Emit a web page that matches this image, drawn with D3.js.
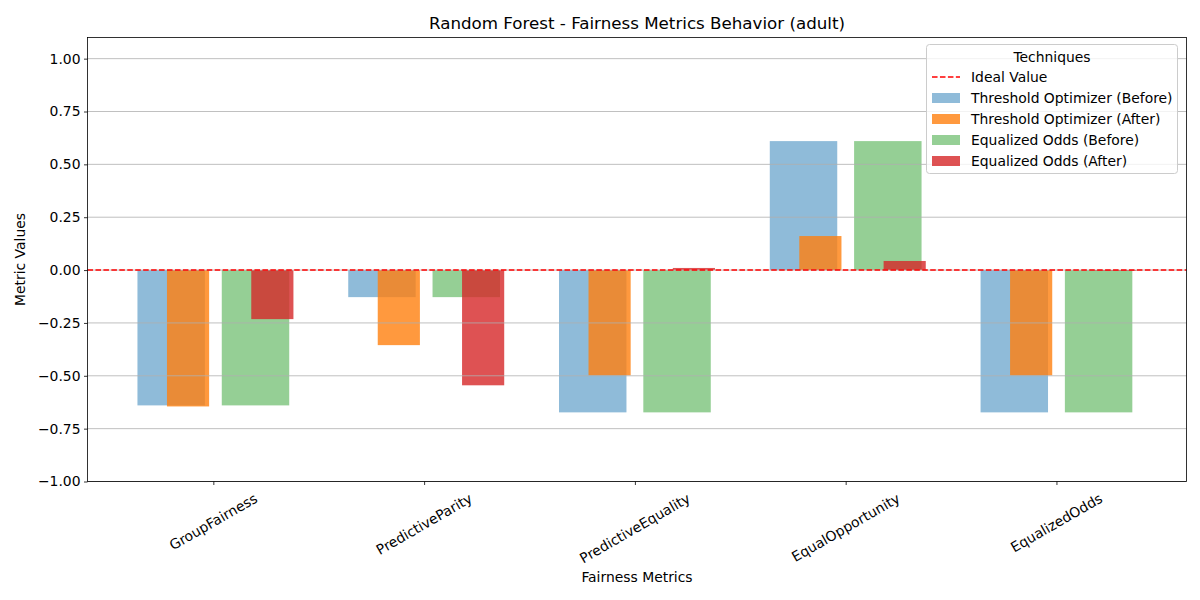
<!DOCTYPE html>
<html><head><meta charset="utf-8">
<script src="https://cdn.jsdelivr.net/npm/d3@7/dist/d3.min.js"></script>
<style>body{margin:0;background:#fff}svg{font-family:"DejaVu Sans",sans-serif}</style>
</head><body><svg id="c" width="1200" height="600"></svg>
<script>
const categories = ["GroupFairness","PredictiveParity","PredictiveEquality","EqualOpportunity","EqualizedOdds"];
const toBefore = [-0.640, -0.128, -0.673, 0.610, -0.673];
const toAfter  = [-0.645, -0.355, -0.498, 0.161, -0.498];
const eoBefore = [-0.640, -0.128, -0.673, 0.610, -0.673];
const eoAfter  = [-0.232, -0.545, 0.010, 0.043, -0.004];
const yTicks = [-1.00,-0.75,-0.50,-0.25,0.00,0.25,0.50,0.75,1.00];
const seriesNames = ["Threshold Optimizer (Before)","Threshold Optimizer (After)","Equalized Odds (Before)","Equalized Odds (After)"];

const svg = d3.select("#c");
const L=87.5, R=1186.5, T=37.5, B=481.5;
const x = d3.scaleLinear().domain([-0.597,4.617]).range([L,R]);
const y = d3.scaleLinear().domain([-1,1.1]).range([B,T]);

const series = [
  {name:seriesNames[0], vals:toBefore, off:-0.2, w:0.32, color:"#1f77b4", op:0.5},
  {name:seriesNames[1], vals:toAfter,  off:-0.12, w:0.2, color:"#ff7f0e", op:0.8},
  {name:seriesNames[2], vals:eoBefore, off:0.2, w:0.32, color:"#2ca02c", op:0.5},
  {name:seriesNames[3], vals:eoAfter,  off:0.28, w:0.2, color:"#d62728", op:0.8}
];

// bars
series.forEach(s=>{
  svg.append("g").selectAll("rect").data(s.vals).join("rect")
    .attr("x",(d,i)=>x(i+s.off-s.w/2))
    .attr("width",(d,i)=>x(i+s.off+s.w/2)-x(i+s.off-s.w/2))
    .attr("y",d=>y(Math.max(0,d)))
    .attr("height",d=>Math.abs(y(d)-y(0)))
    .attr("fill",s.color).attr("fill-opacity",s.op);
});

// grid
svg.append("g").selectAll("line").data(yTicks).join("line")
  .attr("x1",L).attr("x2",R).attr("y1",d=>y(d)).attr("y2",d=>y(d))
  .attr("stroke","#b0b0b0").attr("stroke-width",0.8);

// ideal line
svg.append("line").attr("x1",L).attr("x2",R).attr("y1",y(0)).attr("y2",y(0))
  .attr("stroke","red").attr("stroke-width",1.5).attr("stroke-dasharray","5.55,2.4");

// axes
const yAxis = d3.axisLeft(y).tickValues(yTicks).tickSize(3.5).tickPadding(3.5)
  .tickFormat(d=>d3.format(".2f")(d).replace("-","\u2212"));
const gy = svg.append("g").attr("transform",`translate(${L},0)`).call(yAxis);
gy.select(".domain").remove();
gy.selectAll("text").attr("font-size","13.9px").attr("fill","#000").attr("font-family","DejaVu Sans");
gy.selectAll("line").attr("stroke","#000").attr("stroke-width",0.8);

const xAxis = d3.axisBottom(x).tickValues(d3.range(categories.length)).tickSize(3.5).tickFormat("");
const gx = svg.append("g").attr("transform",`translate(0,${B})`).call(xAxis);
gx.select(".domain").remove();
gx.selectAll("line").attr("stroke","#000").attr("stroke-width",0.8);

// rotated x labels
const fs = 13.9;
categories.forEach((c,i)=>{
  const t = svg.append("text").text(c).attr("font-size",fs+"px").attr("fill","#000");
  const w = t.node().getComputedTextLength();
  const h = fs*1.17;
  const a = Math.PI/6;
  const bh = w*Math.sin(a) + h*Math.cos(a);
  const top = B + 3.5 + 4.9;
  const cx = x(i), cy = top + bh/2;
  t.attr("text-anchor","middle").attr("dominant-baseline","central")
   .attr("transform",`translate(${cx},${cy}) rotate(-30)`);
});

// spines
svg.append("rect").attr("x",L).attr("y",T).attr("width",R-L).attr("height",B-T)
  .attr("fill","none").attr("stroke","#000").attr("stroke-width",0.8);

// title & labels
svg.append("text").attr("x",(L+R)/2).attr("y",29).attr("text-anchor","middle")
  .attr("font-size","16.7px").text("Random Forest - Fairness Metrics Behavior (adult)");
svg.append("text").attr("x",(L+R)/2).attr("y",582).attr("text-anchor","middle")
  .attr("font-size","13.9px").text("Fairness Metrics");
svg.append("text").attr("transform",`translate(25,${(T+B)/2}) rotate(-90)`).attr("text-anchor","middle")
  .attr("font-size","13.9px").text("Metric Values");

// legend
const lg = svg.append("g");
const lx=926.5, ly=44.5, lw=251, lh=129;
lg.append("rect").attr("x",lx).attr("y",ly).attr("width",lw).attr("height",lh).attr("rx",3)
  .attr("fill","#fff").attr("fill-opacity",0.8).attr("stroke","#cccccc").attr("stroke-width",1);
lg.append("text").attr("x",lx+lw/2).attr("y",62).attr("text-anchor","middle").attr("font-size","13.9px").text("Techniques");
const rowY = [77,98,119,140,161];
lg.append("line").attr("x1",932).attr("x2",960).attr("y1",rowY[0]).attr("y2",rowY[0])
  .attr("stroke","red").attr("stroke-width",1.5).attr("stroke-dasharray","5.55,2.4");
lg.append("text").attr("x",971).attr("y",rowY[0]).attr("dominant-baseline","central").attr("font-size","13.9px").text("Ideal Value");
series.forEach((s,k)=>{
  const yy = rowY[k+1];
  lg.append("rect").attr("x",932).attr("y",yy-5).attr("width",28).attr("height",10)
    .attr("fill",s.color).attr("fill-opacity",s.op);
  lg.append("text").attr("x",971).attr("y",yy).attr("dominant-baseline","central").attr("font-size","13.9px").text(s.name);
});
</script></body></html>
